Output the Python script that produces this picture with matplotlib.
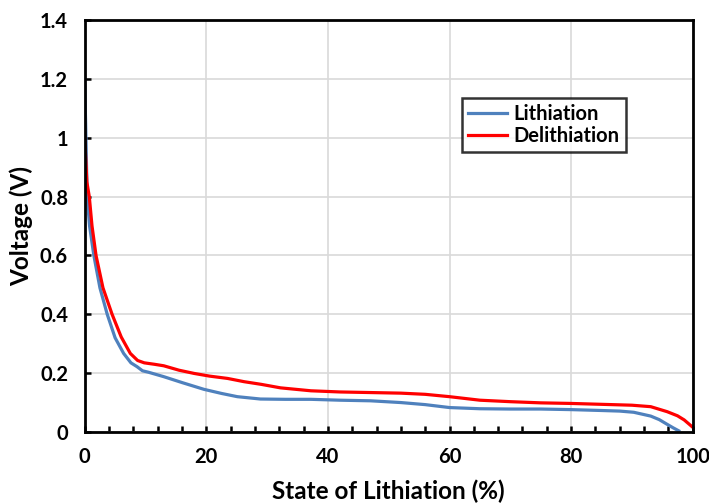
import matplotlib
import matplotlib.pyplot as plt
from matplotlib.ticker import MultipleLocator, FuncFormatter

matplotlib.use("Agg")

plt.rcParams["font.family"] = ["Lato", "DejaVu Sans"]
plt.rcParams["font.weight"] = "bold"

# Lithiation curve (blue)
lith_x = [0, 0.15, 0.4, 0.8, 1.5, 2.5, 3.7, 5.0, 6.4, 7.6, 8.6, 9.5, 10.5,
          13.0, 16.0, 19.6, 22.5, 25.1, 28.9, 33.0, 37.2, 42.0, 47.0, 52.0,
          56.0, 60.0, 65.0, 70.0, 75.0, 80.0, 85.0, 88.0, 90.3, 93.1, 94.5,
          95.8, 96.8, 97.7]
lith_y = [1.18, 1.05, 0.80, 0.70, 0.60, 0.49, 0.40, 0.32, 0.267, 0.235, 0.222,
          0.208, 0.203, 0.188, 0.168, 0.145, 0.131, 0.12, 0.112, 0.111, 0.111,
          0.108, 0.106, 0.100, 0.093, 0.083, 0.079, 0.078, 0.078, 0.076,
          0.073, 0.071, 0.067, 0.054, 0.042, 0.026, 0.014, 0.004]

# Delithiation curve (red)
delith_x = [0, 0.35, 0.75, 1.2, 1.86, 3.0, 4.5, 6.0, 7.5, 8.7, 9.8, 11.5,
            13.0, 15.5, 18.0, 20.5, 23.5, 26.2, 29.0, 32.2, 37.2, 42.0, 47.0,
            52.0, 56.0, 60.0, 65.0, 70.0, 75.0, 80.0, 85.0, 90.0, 93.1, 95.8,
            97.5, 98.6, 99.9]
delith_y = [1.0, 0.85, 0.80, 0.70, 0.60, 0.49, 0.40, 0.323, 0.267, 0.243,
            0.235, 0.23, 0.225, 0.21, 0.199, 0.19, 0.182, 0.171, 0.162, 0.15,
            0.14, 0.136, 0.134, 0.132, 0.128, 0.12, 0.108, 0.103, 0.099, 0.097,
            0.094, 0.091, 0.086, 0.069, 0.055, 0.041, 0.018]

x_ticks = [0, 20, 40, 60, 80, 100]
y_ticks = [0, 0.2, 0.4, 0.6, 0.8, 1.0, 1.2, 1.4]

fig = plt.figure(figsize=(7.09, 5.03), dpi=100)
ax = fig.add_axes([0.1195, 0.1412, 0.8575, 0.8188])

ax.plot(lith_x, lith_y, color="#4F81BD", linewidth=2.3, label="Lithiation")
ax.plot(delith_x, delith_y, color="#FF0000", linewidth=2.3, label="Delithiation")

ax.set_xlim(0, 100)
ax.set_ylim(0, 1.4)
ax.set_xticks(x_ticks)
ax.set_yticks(y_ticks)
ax.xaxis.set_minor_locator(MultipleLocator(4))
ax.yaxis.set_major_formatter(FuncFormatter(lambda v, p: f"{v:g}"))

ax.grid(True, which="major", color="#d9d9d9", linewidth=1.2)
ax.set_axisbelow(True)

for s in ax.spines.values():
    s.set_linewidth(2.0)
    s.set_color("black")

ax.tick_params(axis="both", which="major", direction="in", length=4, width=1.8,
               labelsize=14.5)
ax.tick_params(axis="x", which="major", pad=11)
ax.tick_params(axis="y", which="major", pad=12)
ax.tick_params(axis="x", which="minor", direction="in", length=4, width=1.8)
ax.tick_params(axis="y", which="minor", left=False)
for lab in ax.get_xticklabels() + ax.get_yticklabels():
    lab.set_fontweight("bold")

ax.set_xlabel("State of Lithiation (%)", fontsize=17.5, fontweight="bold", labelpad=9)
ax.set_ylabel("Voltage (V)", fontsize=17.5, fontweight="bold", labelpad=5)

leg = ax.legend(loc="upper left", bbox_to_anchor=(0.621, 0.811), fontsize=14.5,
                frameon=True, fancybox=False, handlelength=1.9, handletextpad=0.35,
                borderpad=0.3, labelspacing=0.12, borderaxespad=0)
leg.get_frame().set_edgecolor("black")
leg.get_frame().set_linewidth(1.8)
for t in leg.get_texts():
    t.set_fontweight("bold")

fig.savefig("out.png", dpi=100)
plt.close(fig)
